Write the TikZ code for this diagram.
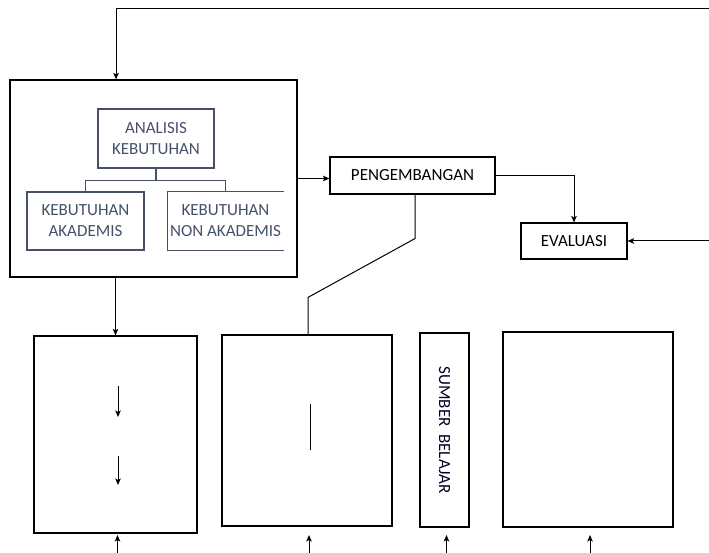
\documentclass[tikz,border=0pt]{standalone}
\usepackage{fontspec}
\setmainfont{Carlito}
\usepackage{tikz}
\usetikzlibrary{arrows.meta,calc,positioning}
\definecolor{slate}{RGB}{70,80,104}
\tikzset{
    %Define standard arrow tip
    >={Stealth[length=6.5pt,width=5.5pt,inset=1.5pt]},
    %Define style for boxes
    outer/.style={
           rectangle,
           draw=black, line width=1.2pt,
           inner sep=0pt,
           text centered},
    inner/.style={
           rectangle,
           draw=slate, line width=1.1pt,
           inner sep=0pt,
           align=center,
           text=slate,
           font=\fontsize{17}{21}\selectfont},
    label/.style={
           rectangle,
           draw=black, line width=1.1pt,
           inner sep=0pt,
           font=\fontsize{17}{21}\selectfont,
           text centered},
    % Define arrow style
    pil/.style={
           ->,
           line width=1pt}
}
\begin{document}
\begin{tikzpicture}[x=1pt,y=-1pt,line width=1pt]
\useasboundingbox (0,0) rectangle (709,553);
% upper part
\node[outer, minimum width=287pt, minimum height=197pt] (big) at (153.5,178.5) {};
\node[inner, minimum width=116pt, minimum height=59pt] (analisis) at (156,138.5) {ANALISIS\\KEBUTUHAN};
\node[inner, minimum width=117pt, minimum height=58pt] (akad) at (85.5,221) {KEBUTUHAN\\AKADEMIS};
\node[inner, draw=none, minimum width=115pt, minimum height=58pt] (nonakad) at (225.5,221) {KEBUTUHAN\\NON AKADEMIS};
\draw[slate, line width=1.1pt] (nonakad.north east) -- (nonakad.north west) -- (nonakad.south west) -- (nonakad.south east);
\node[label, minimum width=165pt, minimum height=37pt] (peng) at (412.5,175.5) {PENGEMBANGAN};
\node[label, minimum width=106pt, minimum height=36pt] (eval) at (574,241) {EVALUASI};
% lower part
\node[outer, minimum width=163pt, minimum height=197pt] (box1) at (115.5,434.5) {};
\node[outer, minimum width=170pt, minimum height=191pt] (box2) at (307,430.5) {};
\node[outer, minimum width=49pt, minimum height=194pt] (sumber) at (444.5,430) {};
\node[rotate=-90, font=\fontsize{17}{21}\selectfont, text=black!85!blue] (sumbertxt) at (sumber.center) {SUMBER\ \ BELAJAR};
\node[outer, minimum width=170pt, minimum height=195pt] (box4) at (588,429.5) {};
% free ends
\coordinate (toprt) at (709,9);
\coordinate (evalrt) at (709,241);
\coordinate (bot) at (0,553);
\coordinate (tip) at (0,535);
\coordinate (a1) at (118,386);
\coordinate (a2) at (118,456);
\coordinate (m1) at (310,404);
% connectors
\draw[pil] (toprt) -| ($(big.north west)!0.37!(big.north east)$);
\draw[slate, line width=1.1pt] (analisis.south) -- ++(0,12);
\draw[slate, line width=1.1pt] (akad.north) |- ($(analisis.south)+(0,12)$) -| (nonakad.north);
\draw[pil] (big.east) -- (big.east -| peng.west);
\draw[pil] (peng.east) -| (eval.north);
\draw[pil] (evalrt) -- (eval.east);
\draw ([xshift=2.5pt]peng.south) -- ++(0,44) -- ($(box2.north)+(1,-37)$) -- ([xshift=1pt]box2.north);
\draw[pil] (big.south -| box1.north) -- (box1.north);
\draw[pil] (a1) -- ++(0,31);
\draw[pil] (a2) -- ++(0,29);
\draw (m1) -- ++(0,46);
\foreach \b in {box1,box2,sumber,box4}
    \draw[pil] ([xshift=2pt]\b.south |- bot) -- ([xshift=2pt]\b.south |- tip);
\end{tikzpicture}
\end{document}
